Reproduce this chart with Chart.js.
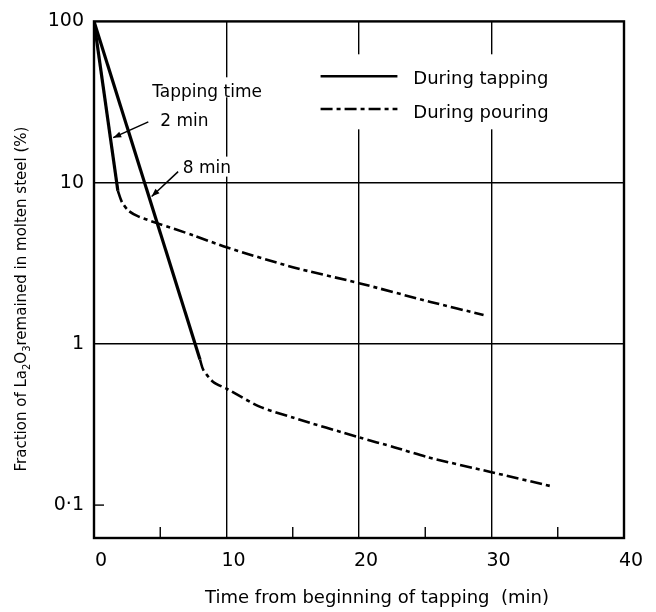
<!DOCTYPE html>
<html>
<head>
<meta charset="utf-8">
<script src="https://cdn.jsdelivr.net/npm/chart.js@4"></script>
<style>
  html, body { margin:0; padding:0; background:#fff; }
  #wrap { width:656px; height:612px; }
</style>
</head>
<body>
<div id="wrap"><canvas id="c" width="656" height="612"></canvas></div>
<script>
// time (min) and fraction of La2O3 left (%)
const tap2X = [0, 1.8];
const tap2Y = [100, 8.9];
const pour2X = [1.8, 2.1, 2.6, 3.3, 4.8, 7.5, 10, 15, 20, 25.4, 29.4];
const pour2Y = [8.9, 7.6, 6.7, 6.2, 5.59, 4.71, 3.97, 2.99, 2.38, 1.82, 1.51];
const tap8X = [0, 8.0];
const tap8Y = [100, 0.80];
const pour8X = [8.0, 8.25, 9.0, 10, 12.5, 15, 20, 22.7, 25.2, 30, 34.5];
const pour8Y = [0.80, 0.69, 0.58, 0.527, 0.408, 0.349, 0.263, 0.228, 0.198, 0.16, 0.131];

const xTicks = [0, 5, 10, 15, 20, 25, 30, 35, 40];
const yTicks = [0.1, 1, 10, 100];
const yTickLabels = {0.1: '0·1', 1: '1', 10: '10', 100: '100'};
const seriesNames = ['During tapping', 'During pouring'];
const xTitle = 'Time from beginning of tapping  (min)';
// y title pieces: [text, subscript?]
const yTitle = [['Fraction of La', 0], ['2', 1], ['O', 0], ['3', 1], ['remained in molten steel (%)', 0]];

const FONT = 'DejaVu Sans';
const pts = (xs, ys) => xs.map((x, i) => ({x, y: ys[i]}));
const POUR_DASH = [12, 4, 4, 4];

const solid = (label, xs, ys) => ({ label, data: pts(xs, ys), showLine:true, borderColor:'#000', borderWidth:3.2, pointRadius:0, fill:false, tension:0 });
const dashed = (label, xs, ys) => ({ label, data: pts(xs, ys), showLine:true, borderColor:'#000', borderWidth:2.6, borderDash:POUR_DASH, pointRadius:0, fill:false, tension:0.25 });

// text, leaders, legend, minor ticks, titles and frame
const decor = {
  id:'decor',
  beforeDatasetsDraw(chart){
    const {ctx, chartArea:a, scales:{x, y}} = chart;
    ctx.save();
    ctx.fillStyle = '#fff';
    // blank the grid behind labels and legend
    ctx.fillRect(x.getPixelForValue(4.2), y.getPixelForValue(45), 118, 20);
    ctx.fillRect(x.getPixelForValue(4.9), y.getPixelForValue(27), 56, 18);
    ctx.fillRect(x.getPixelForValue(6.6), y.getPixelForValue(14.5), 54, 20);
    ctx.fillRect(x.getPixelForValue(16.5), y.getPixelForValue(62.5), 250, 75);
    // minor ticks
    ctx.strokeStyle = '#000'; ctx.lineWidth = 1.4;
    [5, 15, 25, 35].forEach(v => {
      const px = x.getPixelForValue(v);
      ctx.beginPath(); ctx.moveTo(px, a.bottom); ctx.lineTo(px, a.bottom - 11); ctx.stroke();
    });
    const py = y.getPixelForValue(0.1);
    ctx.beginPath(); ctx.moveTo(a.left, py); ctx.lineTo(a.left + 10, py); ctx.stroke();
    ctx.restore();
  },
  afterDatasetsDraw(chart){
    const {ctx, chartArea:a, scales:{x, y}} = chart;
    const P = (vx, vy) => [x.getPixelForValue(vx), y.getPixelForValue(vy)];
    ctx.save();
    ctx.fillStyle = '#000'; ctx.strokeStyle = '#000';
    ctx.font = '17px "' + FONT + '"';
    ctx.textBaseline = 'middle'; ctx.textAlign = 'left';
    let p = P(4.4, 36); ctx.fillText('Tapping time', p[0], p[1]);
    p = P(5.0, 24); ctx.fillText('2 min', p[0], p[1]);
    p = P(6.7, 12.2); ctx.fillText('8 min', p[0], p[1]);

    const leader = (from, to) => {
      const [x0, y0] = P(...from), [x1, y1] = P(...to);
      ctx.lineWidth = 1.5;
      ctx.beginPath(); ctx.moveTo(x0, y0); ctx.lineTo(x1, y1); ctx.stroke();
      const ang = Math.atan2(y1 - y0, x1 - x0), L = 8, W = 3;
      ctx.beginPath();
      ctx.moveTo(x1, y1);
      ctx.lineTo(x1 - L*Math.cos(ang) + W*Math.sin(ang), y1 - L*Math.sin(ang) - W*Math.cos(ang));
      ctx.lineTo(x1 - L*Math.cos(ang) - W*Math.sin(ang), y1 - L*Math.sin(ang) + W*Math.cos(ang));
      ctx.closePath(); ctx.fill();
    };
    leader([4.1, 23.8], [1.45, 19]);
    leader([6.35, 11.7], [4.35, 8.2]);

    // legend
    const lx0 = x.getPixelForValue(17.1), lx1 = x.getPixelForValue(22.9), tx = x.getPixelForValue(24.1);
    const ly1 = y.getPixelForValue(45.7), ly2 = y.getPixelForValue(28.6);
    ctx.lineWidth = 2.4;
    ctx.beginPath(); ctx.moveTo(lx0, ly1); ctx.lineTo(lx1, ly1); ctx.stroke();
    ctx.setLineDash(POUR_DASH);
    ctx.beginPath(); ctx.moveTo(lx0, ly2); ctx.lineTo(lx1, ly2); ctx.stroke();
    ctx.setLineDash([]);
    ctx.font = '18px "' + FONT + '"';
    ctx.fillText(seriesNames[0], tx, ly1 + 3);
    ctx.fillText(seriesNames[1], tx, ly2 + 4);

    // axis titles
    ctx.textAlign = 'center';
    ctx.fillText(xTitle, 377, 598);
    ctx.translate(22, 299); ctx.rotate(-Math.PI / 2);
    const big = '15px "' + FONT + '"', small = '10px "' + FONT + '"';
    let total = 0;
    yTitle.forEach(([t, s]) => { ctx.font = s ? small : big; total += ctx.measureText(t).width; });
    let cx = -total / 2;
    ctx.textAlign = 'left';
    yTitle.forEach(([t, s]) => {
      ctx.font = s ? small : big;
      ctx.fillText(t, cx, s ? 5 : 0);
      cx += ctx.measureText(t).width;
    });
    ctx.setTransform(1, 0, 0, 1, 0, 0);

    // frame
    ctx.lineWidth = 2.4;
    ctx.strokeRect(a.left, a.top, a.right - a.left, a.bottom - a.top);
    ctx.restore();
  }
};

new Chart(document.getElementById('c'), {
  type:'scatter',
  data:{ datasets:[
    solid(seriesNames[0] + ' 2 min', tap2X, tap2Y),
    dashed(seriesNames[1] + ' 2 min', pour2X, pour2Y),
    solid(seriesNames[0] + ' 8 min', tap8X, tap8Y),
    dashed(seriesNames[1] + ' 8 min', pour8X, pour8Y)
  ]},
  options:{
    responsive:false, animation:false,
    layout:{ padding:{ top:20, right:32, left:0, bottom:0 } },
    plugins:{ legend:{display:false}, tooltip:{enabled:false} },
    scales:{
      x:{
        type:'linear', min:0, max:40,
        afterBuildTicks: s => { s.ticks = xTicks.map(v => ({value:v})); },
        afterFit: s => { s.height = 74; },
        ticks:{ color:'#000', font:{family:FONT, size:19}, padding:12, labelOffset:7, maxRotation:0, autoSkip:false,
          callback: v => (v % 10 === 0 ? String(v) : '') },
        grid:{ drawTicks:false, lineWidth:1.4,
          color: c => (c.tick && c.tick.value % 10 === 0 && c.tick.value > 0 && c.tick.value < 40 ? '#000' : 'rgba(0,0,0,0)') },
        border:{ display:false },
        title:{ display:false }
      },
      y:{
        type:'logarithmic', min:0.0625, max:100,
        afterBuildTicks: s => { s.ticks = yTicks.map(v => ({value:v})); },
        afterFit: s => { s.width = 94; },
        ticks:{ color:'#000', font:{family:FONT, size:19}, padding:10, autoSkip:false,
          callback: v => yTickLabels[v] || '' },
        grid:{ drawTicks:false, lineWidth:1.4,
          color: c => (c.tick && (c.tick.value === 1 || c.tick.value === 10) ? '#000' : 'rgba(0,0,0,0)') },
        border:{ display:false },
        title:{ display:false }
      }
    }
  },
  plugins:[decor]
});
</script>
</body>
</html>
